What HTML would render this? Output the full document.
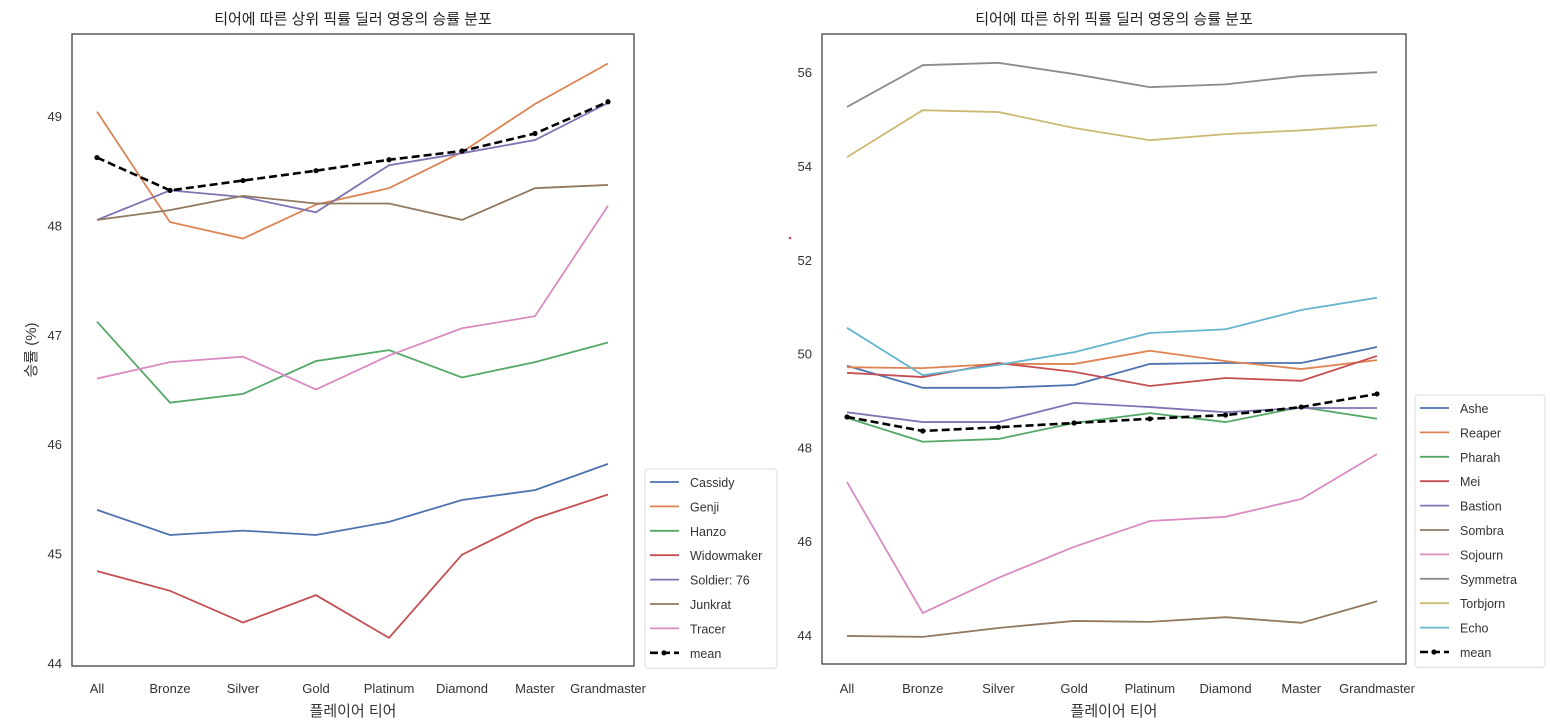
<!DOCTYPE html>
<html><head><meta charset="utf-8">
<style>
html,body{margin:0;padding:0;background:#fff;}
svg{display:block;font-family:"Liberation Sans","Noto Sans CJK KR",sans-serif;}
</style></head>
<body>
<svg id="chart" width="1550" height="726" viewBox="0 0 1550 726" xmlns="http://www.w3.org/2000/svg"></svg>
<script>
const tiers = ["All","Bronze","Silver","Gold","Platinum","Diamond","Master","Grandmaster"];
const leftNames = ["Cassidy","Genji","Hanzo","Widowmaker","Soldier: 76","Junkrat","Tracer"];
const leftCassidy = [45.40,45.17,45.21,45.17,45.29,45.49,45.58,45.82];
const leftGenji = [49.04,48.03,47.88,48.19,48.34,48.67,49.11,49.48];
const leftHanzo = [47.12,46.38,46.46,46.76,46.86,46.61,46.75,46.93];
const leftWidow = [44.84,44.66,44.37,44.62,44.23,44.99,45.32,45.54];
const leftSoldier = [48.05,48.32,48.26,48.12,48.55,48.66,48.78,49.12];
const leftJunkrat = [48.05,48.14,48.27,48.20,48.20,48.05,48.34,48.37];
const leftTracer = [46.60,46.75,46.80,46.50,46.81,47.06,47.17,48.18];
const leftMean = [48.62,48.32,48.41,48.50,48.60,48.68,48.84,49.13];
const leftTicks = [44,45,46,47,48,49];

const rightNames = ["Ashe","Reaper","Pharah","Mei","Bastion","Sombra","Sojourn","Symmetra","Torbjorn","Echo"];
const rightAshe = [49.74,49.27,49.27,49.33,49.78,49.80,49.80,50.14];
const rightReaper = [49.71,49.69,49.78,49.78,50.06,49.84,49.67,49.86];
const rightPharah = [48.63,48.12,48.18,48.52,48.73,48.54,48.86,48.61];
const rightMei = [49.59,49.50,49.80,49.61,49.31,49.48,49.42,49.95];
const rightBastion = [48.75,48.54,48.54,48.95,48.86,48.75,48.84,48.84];
const rightSombra = [43.98,43.96,44.15,44.30,44.28,44.38,44.26,44.72];
const rightSojourn = [47.26,44.47,45.22,45.88,46.43,46.52,46.90,47.86];
const rightSymmetra = [55.26,56.15,56.20,55.96,55.68,55.74,55.92,56.00];
const rightTorbjorn = [54.19,55.19,55.15,54.81,54.55,54.68,54.76,54.87];
const rightEcho = [50.55,49.54,49.76,50.03,50.44,50.52,50.93,51.19];
const rightMean = [48.65,48.35,48.43,48.52,48.61,48.69,48.86,49.14];
const rightTicks = [44,46,48,50,52,54,56];

const colors = ["#4c72b0","#dd8452","#55a868","#c44e52","#8172b3","#937860","#da8bc3","#8c8c8c","#ccb974","#64b5cd"];
const NS = "http://www.w3.org/2000/svg";
const svg = document.getElementById("chart");
function mk(tag, attrs, parent){
  const e = document.createElementNS(NS, tag);
  for (const k in attrs) e.setAttribute(k, attrs[k]);
  (parent||svg).appendChild(e);
  return e;
}

function panel(cfg){
  const g = mk("g", {});
  
  
  const xs = i => cfg.x0 + i * (cfg.x1 - cfg.x0) / (tiers.length - 1);
  const ys = v => cfg.yBase - (v - cfg.vBase) * cfg.ppu;
  const box = mk("rect", {x:cfg.L, y:cfg.T, width:cfg.R-cfg.L, height:cfg.B-cfg.T, fill:"none", stroke:"#333", "stroke-width":1.2}, g);
  
  
  const t = mk("text", {x:(cfg.L+cfg.R)/2, y:24, "text-anchor":"middle", "font-size":15, fill:"#222"}, g);
  t.textContent = cfg.title;
  
  
  cfg.ticks.forEach(v => {
    const tt = mk("text", {x:cfg.L-10, y:ys(v)+5, "text-anchor":"end", "font-size":13, fill:"#333"}, g);
    tt.textContent = v;
    
    
  });
  tiers.forEach((c,i) => {
    const tt = mk("text", {x:xs(i), y:693, "text-anchor":"middle", "font-size":13, fill:"#333"}, g);
    tt.textContent = c;
    
    
  });
  const xl = mk("text", {x:(cfg.L+cfg.R)/2, y:716, "text-anchor":"middle", "font-size":15, fill:"#333"}, g);
  xl.textContent = "플레이어 티어";
  
  
  if (cfg.ylabel){
    const yl = mk("text", {x:0, y:0, "text-anchor":"middle", "font-size":15, fill:"#333", transform:`translate(36,${(cfg.T+cfg.B)/2}) rotate(-90)`}, g);
    yl.textContent = cfg.ylabel;
    
    
  }
  cfg.series.forEach((s,k) => {
    const p = mk("polyline", {points:s.map((v,i)=>xs(i)+","+ys(v)).join(" "), fill:"none", stroke:colors[k], "stroke-width":1.8}, g);
    
    
  });
  const m = mk("polyline", {points:cfg.mean.map((v,i)=>xs(i)+","+ys(v)).join(" "), fill:"none", stroke:"#000", "stroke-width":2.6, "stroke-dasharray":"8,4"}, g);
  
  
  cfg.mean.forEach((v,i) => {
    const c = mk("circle", {cx:xs(i), cy:ys(v), r:2.6, fill:"#000"}, g);
    
    
  });
  const lg = mk("g", {}, g);
  
  
  const n = cfg.names.length + 1;
  mk("rect", {x:cfg.lx, y:cfg.ly, width:cfg.lw, height:n*24.4+4, rx:3, fill:"#fff", stroke:"#ddd"}, lg);
  const labels = cfg.names.concat(["mean"]);
  labels.forEach((name,k) => {
    const yy = cfg.ly + 13 + k*24.4;
    const isMean = k === cfg.names.length;
    const ln = mk("line", {x1:cfg.lx+5, x2:cfg.lx+34, y1:yy, y2:yy, stroke:isMean?"#000":colors[k], "stroke-width":isMean?2.6:1.8, "stroke-dasharray":isMean?"8,4":"none"}, lg);
    
    
    if (isMean) mk("circle", {cx:cfg.lx+19, cy:yy, r:2.6, fill:"#000"}, lg);
    const tx = mk("text", {x:cfg.lx+45, y:yy+5, "font-size":12.5, fill:"#333"}, lg);
    tx.textContent = name;
    
    
  });
}

panel({id:"top-heroes", L:72, R:634, T:34, B:666, x0:97, x1:608, yBase:663, vBase:44, ppu:109.4,
  ticks:leftTicks, title:"티어에 따른 상위 픽률 딜러 영웅의 승률 분포", ylabel:"승률 (%)",
  names:leftNames, series:[leftCassidy,leftGenji,leftHanzo,leftWidow,leftSoldier,leftJunkrat,leftTracer], mean:leftMean,
  lx:645, ly:469, lw:132});
panel({id:"bottom-heroes", L:822, R:1406, T:34, B:664, x0:847, x1:1377, yBase:635, vBase:44, ppu:46.9,
  ticks:rightTicks, title:"티어에 따른 하위 픽률 딜러 영웅의 승률 분포", ylabel:null,
  names:rightNames, series:[rightAshe,rightReaper,rightPharah,rightMei,rightBastion,rightSombra,rightSojourn,rightSymmetra,rightTorbjorn,rightEcho], mean:rightMean,
  lx:1415, ly:395, lw:130});
const dot = mk("circle", {cx:790, cy:238, r:1.3, fill:"#c44e52"});


</script>
</body></html>
